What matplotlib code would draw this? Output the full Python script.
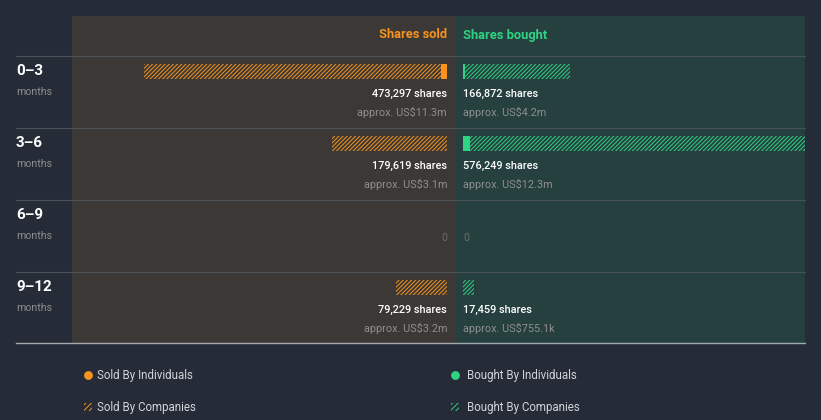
import matplotlib
matplotlib.use("Agg")
from matplotlib import pyplot as plt
from matplotlib.patches import Rectangle

# Data
periods = ['0–3', '3–6', '6–9', '9–12']
sold_total = [473297, 179619, 0, 79229]
sold_individuals = [9500, 0, 0, 0]
sold_value = ['approx. US$11.3m', 'approx. US$3.1m', '', 'approx. US$3.2m']
bought_total = [166872, 576249, 0, 17459]
bought_individuals = [3000, 11000, 0, 0]
bought_value = ['approx. US$4.2m', 'approx. US$12.3m', '', 'approx. US$755.1k']

# Colours
bg = '#262b38'
sold_bg = '#3c3835'
bought_bg = '#25403f'
orange = '#f7931e'
green = '#2fd383'
grid = '#4b5056'
grey_txt = '#8e8e8e'

plt.rcParams['font.family'] = ['Roboto', 'DejaVu Sans']
plt.rcParams['hatch.linewidth'] = 0.7

px_per_share = 0.00064
axis_left = 447
axis_right = 463
row_top = 56
row_h = 72

fig = plt.figure(figsize=(8.21, 4.2), dpi=100, facecolor=bg)
ax = fig.add_axes([0, 0, 1, 1])
ax.set_xlim(0, 821)
ax.set_ylim(420, 0)
ax.axis('off')

# panels
ax.add_patch(Rectangle((72, 16), 383, 327, color=sold_bg, lw=0))
bought_panel = Rectangle((455, 16), 350, 327, color=bought_bg, lw=0)
ax.add_patch(bought_panel)

# header
ax.text(axis_left, 35, 'Shares sold', color=orange, fontsize=9.3, fontweight='bold',
        ha='right', va='center')
ax.text(axis_right, 35, 'Shares bought', color=green, fontsize=9.3, fontweight='bold',
        ha='left', va='center')

for i, p in enumerate(periods):
    top = row_top + i * row_h
    ax.plot([16, 805], [top, top], color=grid, lw=0.8)
    ax.text(16, top + 15, p, color='white', fontsize=11, fontweight='bold', va='center')
    ax.text(16, top + 36, 'months', color=grey_txt, fontsize=7.7, va='center')

    bar_y = top + 15.5
    # sold side
    s_ind = sold_individuals[i] * px_per_share
    s_comp = (sold_total[i] - sold_individuals[i]) * px_per_share
    if s_ind > 0:
        ax.barh(bar_y, -s_ind, left=axis_left, height=15, color=orange, lw=0)
    if s_comp > 0:
        ax.barh(bar_y, -s_comp, left=axis_left - s_ind, height=15, facecolor='none',
                edgecolor=orange, hatch='////////', lw=0)
    # bought side
    b_ind = bought_individuals[i] * px_per_share
    b_comp = (bought_total[i] - bought_individuals[i]) * px_per_share
    if b_ind > 0:
        ax.barh(bar_y, b_ind, left=axis_right, height=15, color=green, lw=0)
    if b_comp > 0:
        bars = ax.barh(bar_y, b_comp, left=axis_right + b_ind, height=15, facecolor='none',
                       edgecolor=green, hatch='////////', lw=0)
        for b in bars:
            b.set_clip_path(bought_panel)

    if sold_total[i] > 0:
        ax.text(axis_left, top + 38, f'{sold_total[i]:,} shares', color='white',
                fontsize=7.8, fontweight='medium', ha='right', va='center')
        ax.text(axis_left, top + 56, sold_value[i], color=grey_txt, fontsize=7.8,
                ha='right', va='center')
    else:
        ax.text(axis_left, top + 38, '0', color='#6e6e6e', fontsize=7.5, ha='right', va='center')
    if bought_total[i] > 0:
        ax.text(axis_right, top + 38, f'{bought_total[i]:,} shares', color='white',
                fontsize=7.8, fontweight='medium', ha='left', va='center')
        ax.text(axis_right, top + 56, bought_value[i], color=grey_txt, fontsize=7.8,
                ha='left', va='center')
    else:
        ax.text(axis_right, top + 38, '0', color='#6e6e6e', fontsize=7.5, ha='left', va='center')

# bottom line
ax.plot([16, 805], [343, 343], color='#a4a8ad', lw=1)

# legend
legend_items = [
    (88, 97, 375, 'Sold By Individuals', orange, False),
    (88, 97, 407, 'Sold By Companies', orange, True),
    (455, 467, 375, 'Bought By Individuals', green, False),
    (455, 467, 407, 'Bought By Companies', green, True),
]
for mx, tx, y, label, c, hatched in legend_items:
    if hatched:
        ax.add_patch(Rectangle((mx - 4, y - 4), 8, 8, facecolor='none', edgecolor=c,
                               hatch='//////', lw=0))
    else:
        ax.scatter([mx], [y], s=40, color=c, lw=0)
    ax.text(tx, y, label, color='#d2d4d8', fontsize=8.3, va='center', ha='left')

fig.savefig('out.png', dpi=100, facecolor=bg)
